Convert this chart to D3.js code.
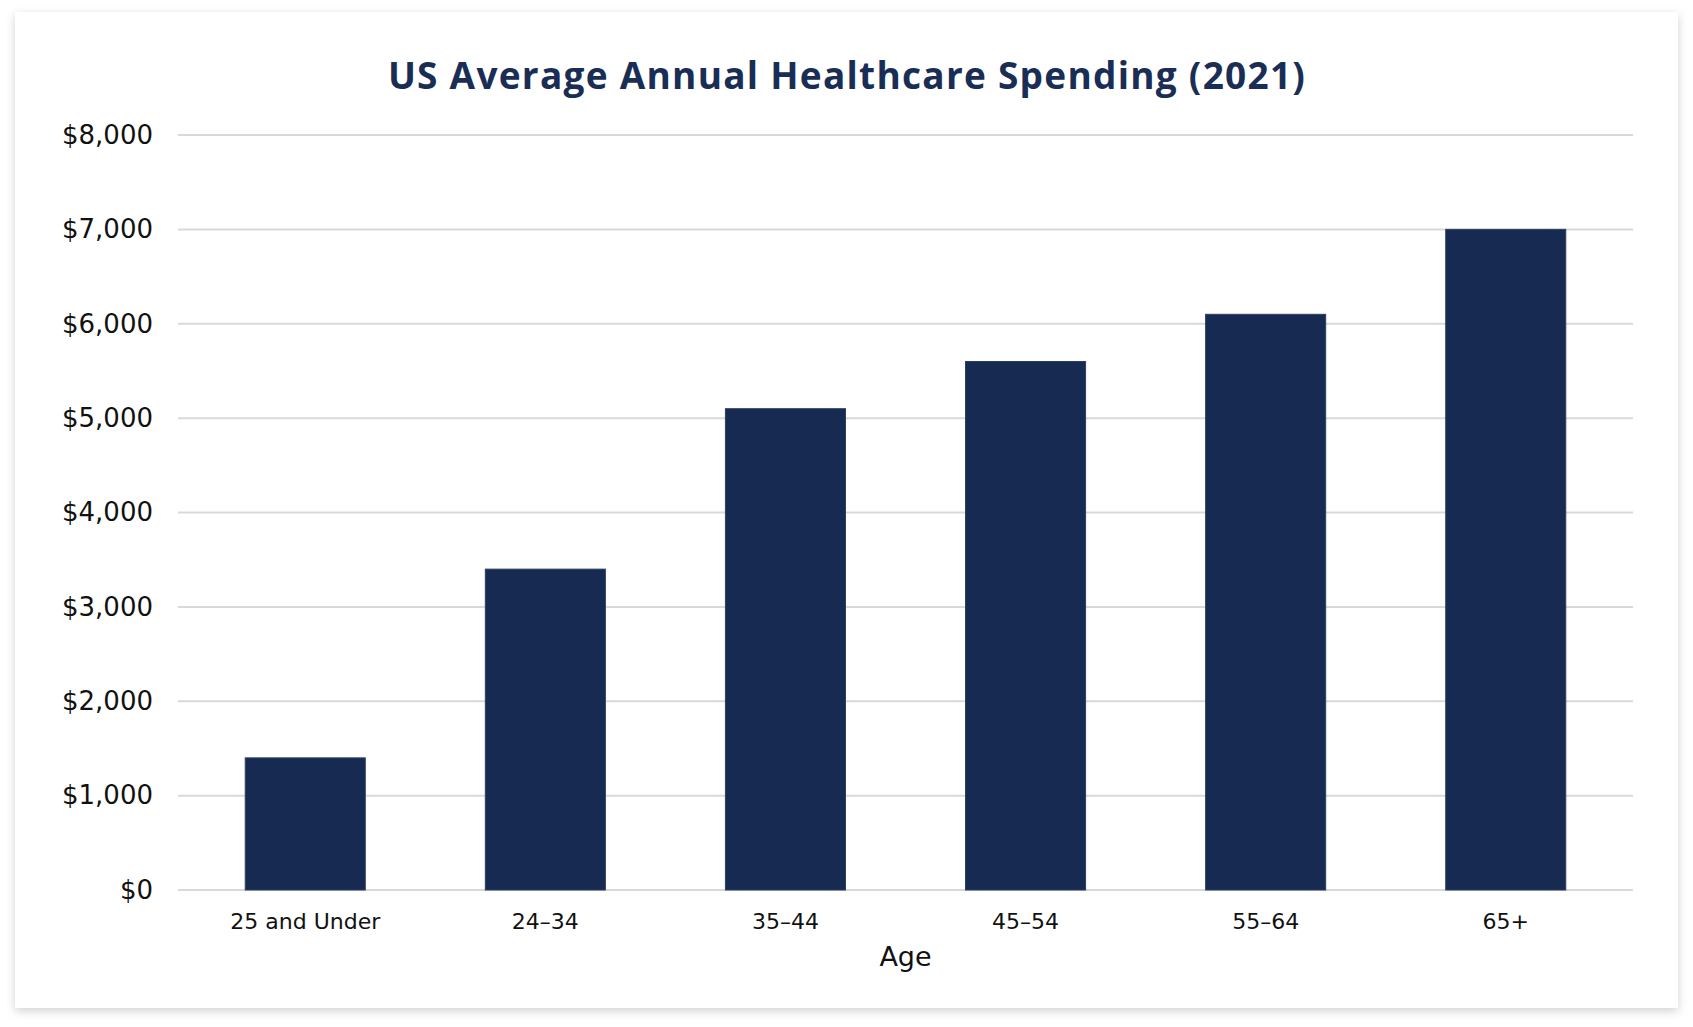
<!DOCTYPE html>
<html lang="en">
<head>
  <meta charset="UTF-8">
  <title>US Average Annual Healthcare Spending (2021)</title>
  <script src="https://d3js.org/d3.v7.min.js"></script>
  <style>
    html, body {
      margin: 0;
      padding: 0;
      background: #fff;
      overflow: hidden;
    }
    svg {
      display: block;
    }
  </style>
</head>
<body>
<svg id="chart" width="1693" height="1027"></svg>

<script>
  const ageGroups = ["25 and Under", "24\u201334", "35\u201344", "45\u201354", "55\u201364", "65+"];
  const spending = [1400, 3400, 5100, 5600, 6100, 7000];
  const yTicks = [0, 1000, 2000, 3000, 4000, 5000, 6000, 7000, 8000];

  const width = 1693, height = 1027;
  const margin = {left: 178, right: 60, top: 135, bottom: 137};
  const navy = "#172a51";

  const svg = d3.select("#chart");

  // card with soft shadow
  const defs = svg.append("defs");
  const shadow = defs.append("filter")
          .attr("id", "shadow")
          .attr("x", "-5%").attr("y", "-5%")
          .attr("width", "110%").attr("height", "110%");
  shadow.append("feDropShadow")
          .attr("dx", 0).attr("dy", 3)
          .attr("stdDeviation", 5)
          .attr("flood-color", "#000")
          .attr("flood-opacity", 0.18);

  svg.append("rect")
          .attr("x", 15).attr("y", 12)
          .attr("width", 1663).attr("height", 996)
          .attr("fill", "#fff")
          .attr("filter", "url(#shadow)");

  const x = d3.scaleBand()
          .domain(ageGroups)
          .range([margin.left, width - margin.right])
          .paddingInner(0.5)
          .paddingOuter(0.28);

  const y = d3.scaleLinear()
          .domain([0, 8000])
          .range([height - margin.bottom, margin.top]);

  // grid lines
  svg.append("g")
          .selectAll("line")
          .data(yTicks)
          .join("line")
          .attr("x1", margin.left)
          .attr("x2", width - margin.right)
          .attr("y1", d => y(d))
          .attr("y2", d => y(d))
          .attr("stroke", "#d9d9d9")
          .attr("stroke-width", 2);

  // y axis labels
  const yAxis = d3.axisLeft(y)
          .tickValues(yTicks)
          .tickSize(0)
          .tickPadding(25)
          .tickFormat(d => "$" + d3.format(",")(d));

  svg.append("g")
          .attr("transform", `translate(${margin.left},0)`)
          .call(yAxis)
          .call(g => g.select(".domain").remove())
          .selectAll("text")
          .attr("font-family", "DejaVu Sans")
          .attr("font-size", 26)
          .attr("fill", "#111");

  // bars
  svg.append("g")
          .selectAll("rect")
          .data(spending)
          .join("rect")
          .attr("x", (d, i) => x(ageGroups[i]))
          .attr("y", d => y(d))
          .attr("width", x.bandwidth())
          .attr("height", d => y(0) - y(d))
          .attr("fill", navy)
          .attr("stroke", "#2c3e63")
          .attr("stroke-width", 1);

  // x axis labels
  const xAxis = d3.axisBottom(x)
          .tickSize(0)
          .tickPadding(23);

  svg.append("g")
          .attr("transform", `translate(0,${y(0)})`)
          .call(xAxis)
          .call(g => g.select(".domain").remove())
          .selectAll("text")
          .attr("font-family", "DejaVu Sans")
          .attr("font-size", 22)
          .attr("fill", "#111");

  // axis title
  svg.append("text")
          .attr("x", (margin.left + width - margin.right) / 2)
          .attr("y", 966)
          .attr("text-anchor", "middle")
          .attr("font-family", "DejaVu Sans")
          .attr("font-size", 27)
          .attr("fill", "#111")
          .text("Age");

  // chart title
  const title = svg.append("text")
          .attr("x", 847)
          .attr("y", 89)
          .attr("text-anchor", "middle")
          .attr("font-family", "Open Sans")
          .attr("font-weight", 700)
          .attr("font-size", 37)
          .attr("fill", "#1a2d55")
          .text("US Average Annual Healthcare Spending (2021)");

  // spread letters so the title spans the same width as the original
  const titleWidth = 917;
  const n = title.text().length;
  const w = title.node().getComputedTextLength();
  title.attr("letter-spacing", Math.max(0, (titleWidth - w) / (n - 1)));
</script>
</body>
</html>
